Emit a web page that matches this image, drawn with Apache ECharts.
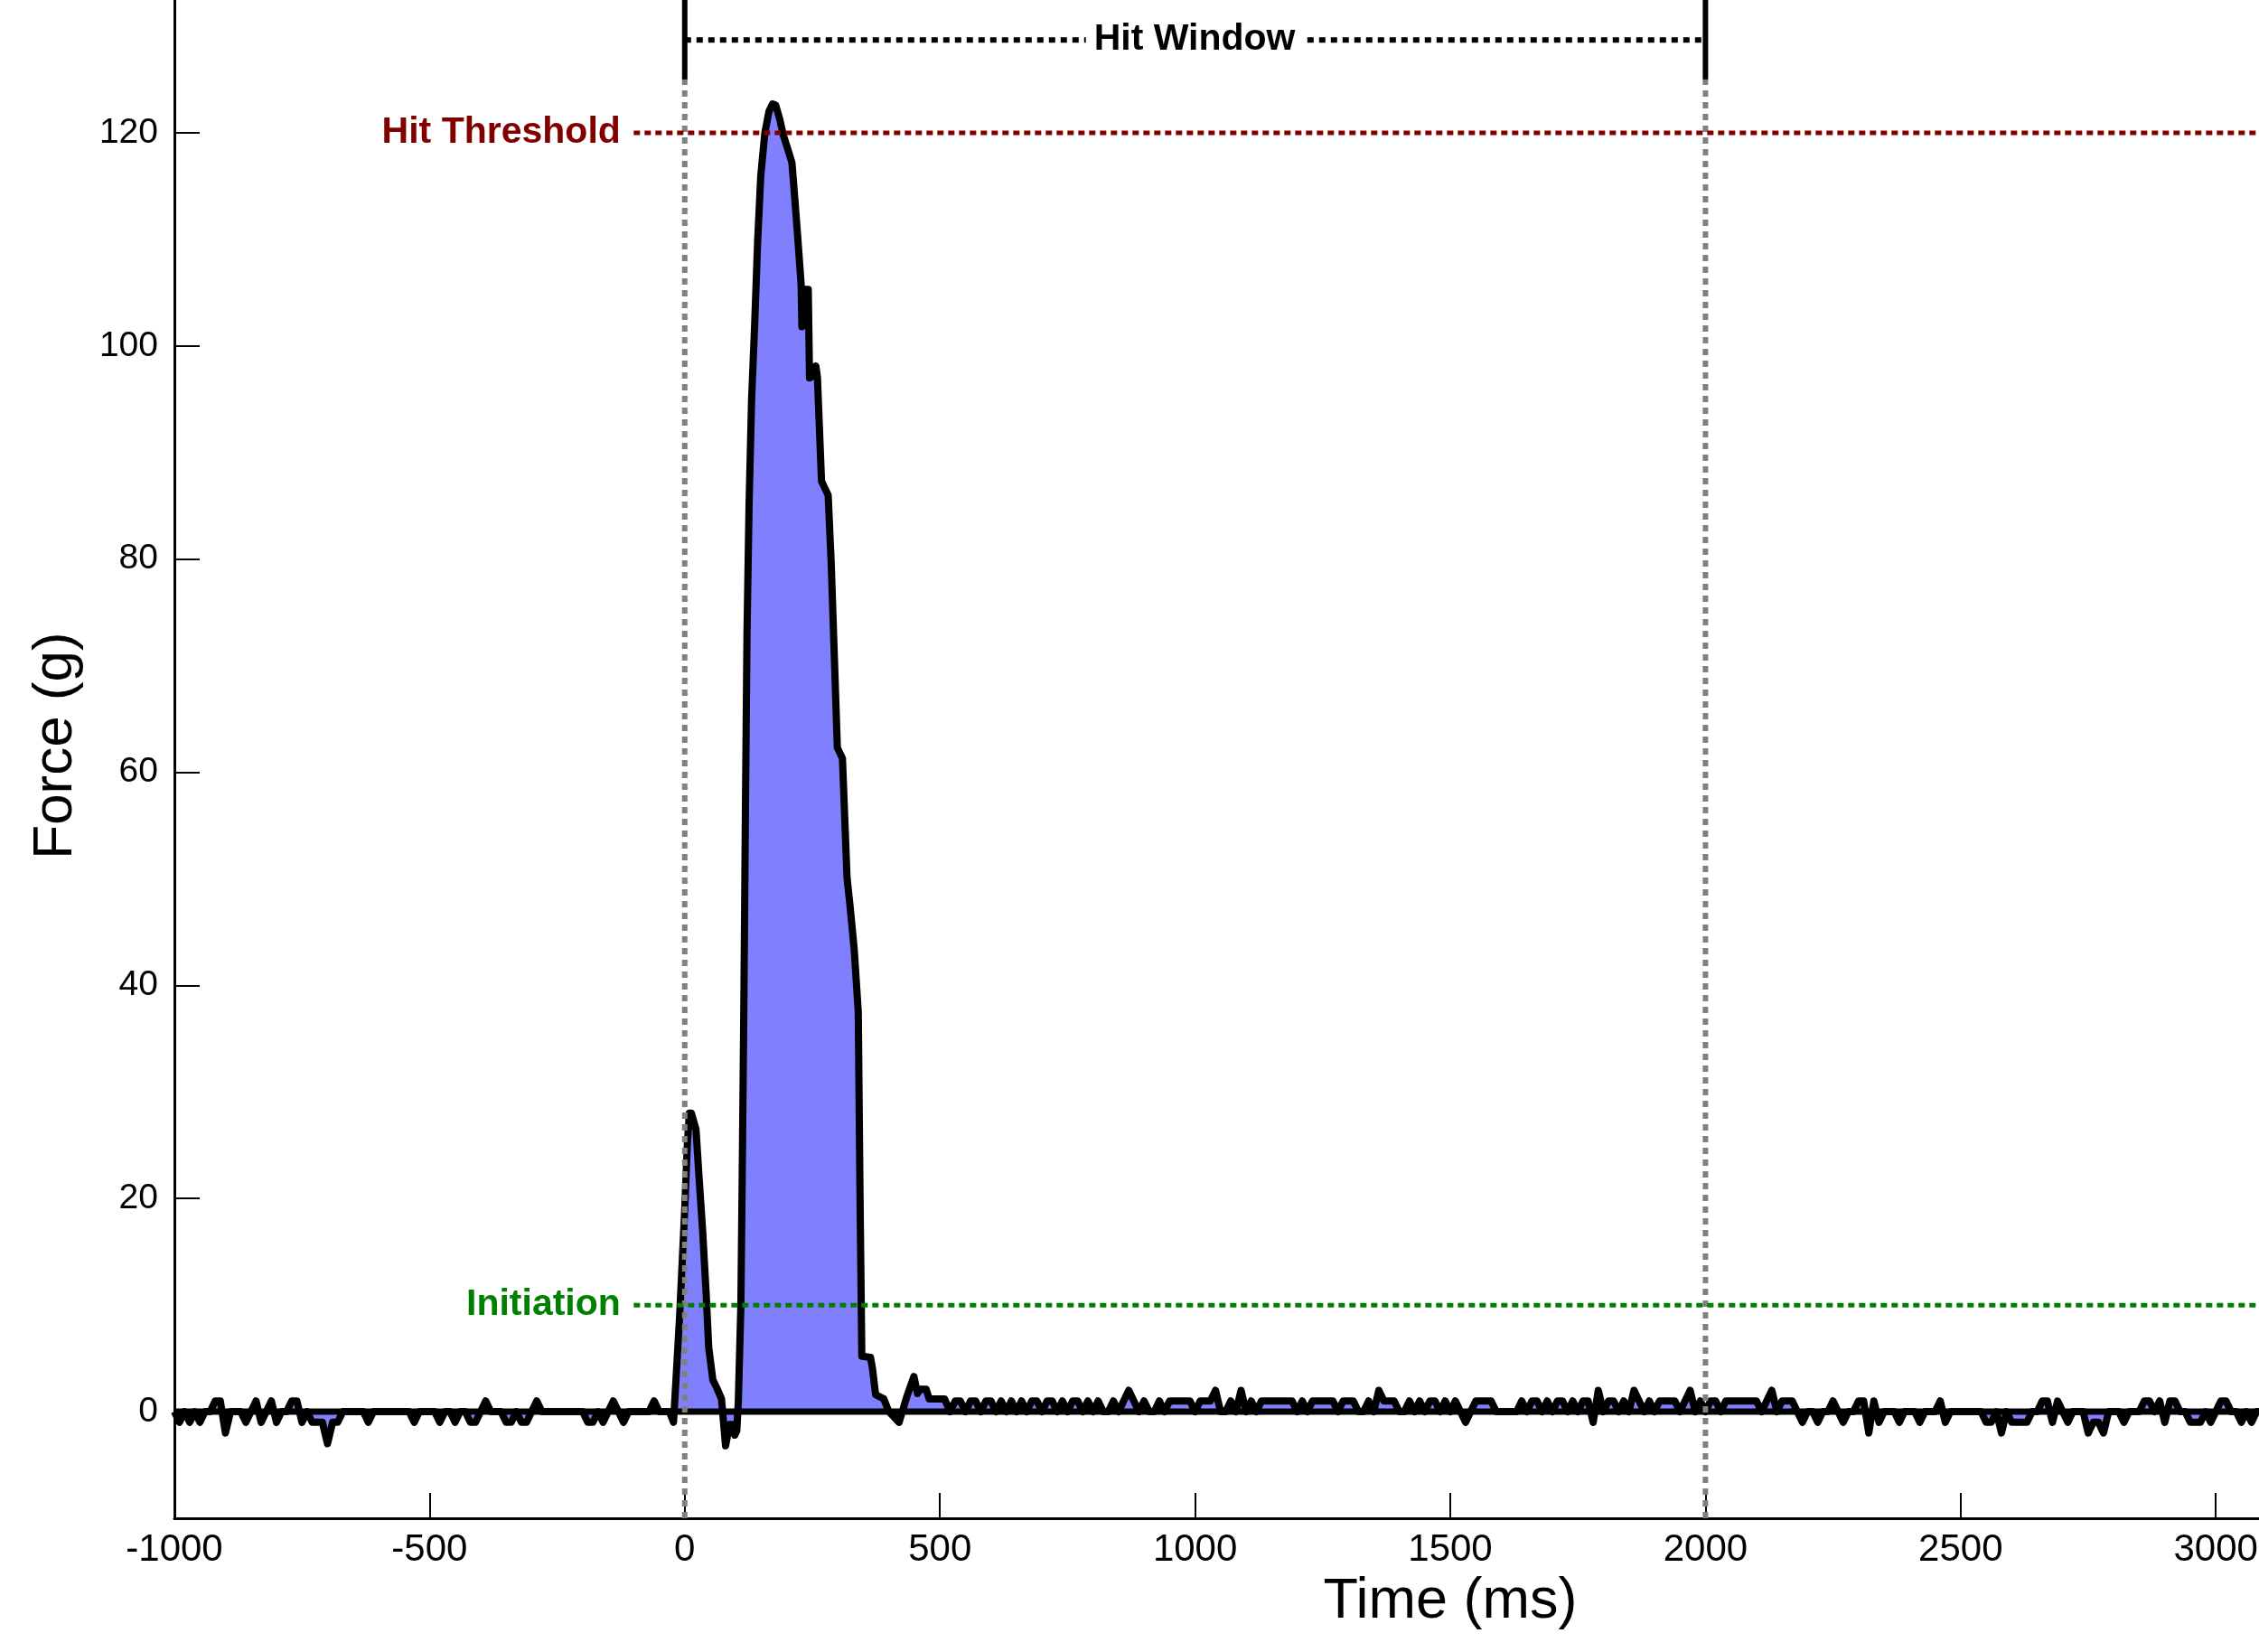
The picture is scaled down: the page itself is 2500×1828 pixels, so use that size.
<!DOCTYPE html>
<html><head><meta charset="utf-8">
<script src="https://cdn.jsdelivr.net/npm/echarts@6/dist/echarts.min.js"></script>
<style>html,body{margin:0;padding:0;background:#fff}#c{width:2500px;height:1828px}</style>
</head><body><div id="c"></div>
<script>
// ---- DATA ----
const sampleStep = 10;               // ms between samples in the noise segments
const preStart = -1000;              // first noise sample time (ms)
const preForce = [
  0,-1,0,-1,0,-1,0,0,1,1,
  -2,0,0,0,-1,0,1,-1,0,1,
  -1,0,0,1,1,-1,0,-1,-1,-1,
  -3,-1,-1,0,0,0,0,0,-1,0,
  0,0,0,0,0,0,0,-1,0,0,
  0,0,-1,0,0,-1,0,0,-1,-1,
  0,1,0,0,0,-1,-1,0,-1,-1,
  0,1,0,0,0,0,0,0,0,0,
  0,-1,-1,0,-1,0,1,0,-1,0,
  0,0,0,0,1,0,0,0
];
const peakTime = [-22,-10,0,5,9,13,22,28,35,42,47,55,63,72,80,88,93,98,102,105,110,113,116,119,122,126,131,137,143,149,157,165,172,178,186,193,203,210,216,222,228,229.5,231,242,244.5,252,257,260,268,281,287,293,299,309,318,324,332,340,343.5,347,364,368,374,390,400,420,435,449,456,461,473,479,509];
const peakForce = [-1,9,19,25,28,28,26.5,22,17,11,6,3,2.2,1.2,-3.2,-1.2,-1.2,-2.2,-1.8,1,10,24,39,57,73,85,95,102,110,116,120,122,122.7,122.6,121.3,119.8,118.3,117.2,113.6,109.8,105.8,101.8,105.3,105.3,97,97.2,98.1,97,87.3,86,79.6,71,62.3,61.3,50.1,47.4,43.4,37.5,20,5.2,5.1,4,1.6,1.2,0,-1,1.4,3.3,1.7,2.1,2.1,1.2,1.2];
const postStart = 520;
const postForce = [
  0,1,1,0,1,1,0,1,1,0,
  1,0,1,0,1,0,1,1,0,1,
  1,0,1,0,1,1,0,1,0,1,
  0,0,1,0,1,2,1,0,1,0,
  0,1,0,1,1,1,1,1,0,1,
  1,1,2,0,0,1,0,2,0,1,
  0,1,1,1,1,1,1,1,0,1,
  0,1,1,1,1,1,0,1,1,1,
  0,0,1,0,2,1,1,1,0,0,
  1,0,1,0,1,1,0,1,0,1,
  0,-1,0,1,1,1,1,0,0,0,
  0,0,1,0,1,1,0,1,0,1,
  1,0,1,0,1,1,-1,2,0,1,
  1,0,1,0,2,1,0,1,0,1,
  1,1,1,0,1,2,0,1,0,1,
  1,0,1,1,1,1,1,1,1,0,
  1,2,0,1,1,1,0,-1,0,0,
  -1,0,0,1,0,-1,0,0,1,1,
  -2,1,-1,0,0,0,-1,0,0,0,
  -1,0,0,0,1,-1,0,0,0,0,
  0,0,0,-1,-1,0,-2,0,-1,-1,
  -1,-1,0,0,1,1,-1,1,0,-1,
  0,0,0,-2,-1,-1,-2,0,0,0,
  -1,0,0,0,1,1,0,1,-1,1,
  1,0,0,-1,-1,-1,0,-1,0,1,
  1,0,0,-1,0,-1,0,0,0
];
const xRange = [-1000, 4000];
const yRange = [-10, 135];
const yTickValues = [0, 20, 40, 60, 80, 100, 120];
const hitThreshold = 120;
const initiation = 10;
const thresholdStart = -100;
const windowStart = 0, windowEnd = 2000;
const windowBracketLow = 125, windowBracketY = 128.7;

// ---- BUILD ----
const forceData = [];
preForce.forEach((v, i) => forceData.push([preStart + i * sampleStep, v]));
peakTime.forEach((t, i) => forceData.push([t, peakForce[i]]));
postForce.forEach((v, i) => forceData.push([postStart + i * sampleStep, v]));

const FONT = 'Liberation Sans, Arial, sans-serif';
const chart = echarts.init(document.getElementById('c'), null, {renderer: 'canvas'});

function hLine(y, x0, x1, color, width, type, z) {
  return {type: 'line', data: [[x0, y], [x1, y]], symbol: 'none', silent: true, z: z,
    lineStyle: {color: color, width: width, type: type, cap: 'butt'}, animation: false};
}
function vLine(x, y0, y1, color, width, type, z) {
  return {type: 'line', data: [[x, y0], [x, y1]], symbol: 'none', silent: true, z: z,
    lineStyle: {color: color, width: width, type: type, cap: 'butt'}, animation: false};
}
function textMark(x, y, text, color, pos, dist, bg, z, align) {
  const lbl = {show: true, position: pos, distance: dist, formatter: text, color: color, fontFamily: FONT,
      fontSize: 41, fontWeight: 'bold', textBorderWidth: 0, opacity: 1,
      backgroundColor: bg || 'transparent', padding: bg ? [2, 9] : 0};
  if (align) { lbl.align = 'center'; lbl.verticalAlign = 'middle'; }
  return {type: 'scatter', data: [[x, y]], symbolSize: 1, itemStyle: {color: 'rgba(255,255,255,0)'}, silent: true, z: z,
    label: lbl, animation: false};
}

const option = {
  animation: false,
  backgroundColor: '#ffffff',
  grid: {left: 193, right: -517, top: -30, bottom: 148, containLabel: false, outerBoundsMode: 'none'},
  xAxis: {
    type: 'value', min: xRange[0], max: xRange[1], interval: 500,
    name: 'Time (ms)', nameLocation: 'middle', nameGap: 57,
    nameTextStyle: {fontFamily: FONT, fontSize: 63, color: '#000'},
    axisLine: {show: true, onZero: false, lineStyle: {color: '#000', width: 3}},
    axisTick: {show: true, inside: true, length: 28, lineStyle: {color: '#000', width: 2}},
    axisLabel: {fontFamily: FONT, fontSize: 42, color: '#000', margin: 14, formatter: v => String(v)},
    splitLine: {show: false}
  },
  yAxis: {
    type: 'value', min: yRange[0], max: yRange[1],
    name: 'Force (g)', nameLocation: 'middle', nameGap: 100, nameRotate: 90,
    nameTextStyle: {fontFamily: FONT, fontSize: 62, color: '#000'},
    axisLine: {show: true, onZero: false, lineStyle: {color: '#000', width: 3}},
    axisTick: {show: true, inside: true, length: 28, customValues: yTickValues, lineStyle: {color: '#000', width: 2}},
    axisLabel: {fontFamily: FONT, fontSize: 39, color: '#000', margin: 18, customValues: yTickValues, formatter: v => String(v)},
    splitLine: {show: false}
  },
  series: [
    {type: 'line', data: forceData, symbol: 'none', z: 2, silent: true, animation: false,
      lineStyle: {color: '#000', width: 8, join: 'round'},
      areaStyle: {color: '#8080FF', opacity: 1, origin: 0}},
    hLine(0, xRange[0], xRange[1], '#000', 7, 'solid', 3),
    vLine(windowStart, yRange[0], windowBracketLow, '#808080', 6, [7, 6], 4),
    vLine(windowEnd, yRange[0], windowBracketLow, '#808080', 6, [7, 6], 4),
    vLine(windowStart, windowBracketLow, yRange[1], '#000', 6, 'solid', 4),
    vLine(windowEnd, windowBracketLow, yRange[1], '#000', 6, 'solid', 4),
    hLine(windowBracketY, windowStart, windowEnd, '#000', 6, [7, 6], 4),
    hLine(hitThreshold, thresholdStart, xRange[1], '#800000', 5, [7, 5], 5),
    hLine(initiation, thresholdStart, xRange[1], '#008000', 5, [7, 5], 5),
    textMark(thresholdStart, hitThreshold, 'Hit Threshold', '#800000', 'left', 14, null, 6),
    textMark(thresholdStart, initiation, 'Initiation', '#008000', 'left', 14, null, 6),
    textMark((windowStart + windowEnd) / 2, windowBracketY, 'Hit Window', '#000000', [0, 0], 0, '#ffffff', 6, true)
  ]
};
chart.setOption(option);
</script></body></html>
